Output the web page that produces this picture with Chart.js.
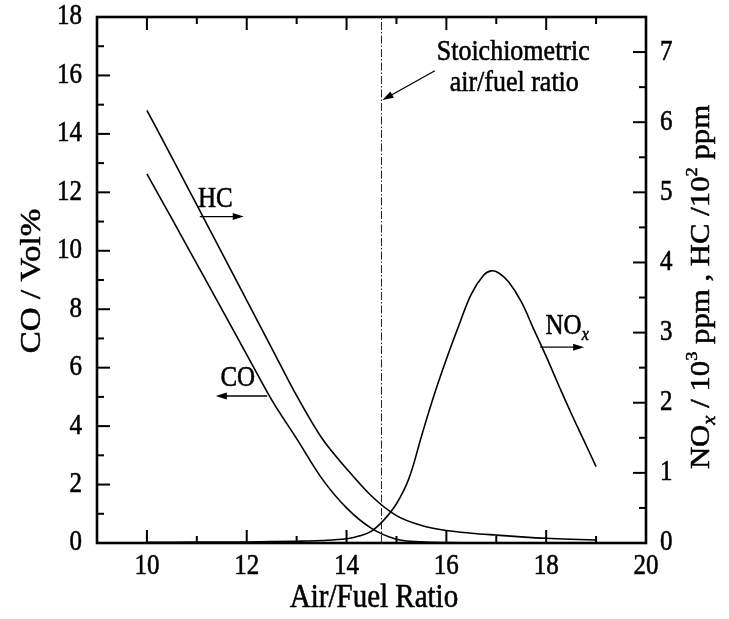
<!DOCTYPE html>
<html>
<head>
<meta charset="utf-8">
<script src="https://cdn.jsdelivr.net/npm/chart.js@4"></script>
<style>
  html, body { margin: 0; padding: 0; background: #fff; }
  #wrap { width: 729px; height: 619px; }
</style>
</head>
<body>
<div id="wrap"><canvas id="chart" width="729" height="619"></canvas></div>
<script>
// 数据 - 从图上读出
const airFuel = [10, 10.5, 11, 11.5, 12, 12.5, 13, 13.5, 14, 14.5, 15, 15.5, 16, 16.5, 17, 17.5, 18, 18.5, 19];
const coVol = [12.63, 11.1, 9.55, 8.0, 6.45, 4.9, 3.57, 2.22, 1.2, 0.5, 0.13, 0.04, 0.015, 0.01, 0.005, 0.005, 0.005, 0.005, 0.005];
const hcPpm = [6.17, 5.5, 4.82, 4.14, 3.46, 2.78, 2.1, 1.5, 1.06, 0.67, 0.39, 0.25, 0.178, 0.14, 0.113, 0.088, 0.067, 0.053, 0.043];

const noxAirFuel = [10, 11, 12, 13, 13.5, 14, 14.25, 14.5, 14.75, 15, 15.25, 15.5, 15.75, 16, 16.25, 16.5, 16.75, 16.9, 17.05, 17.25, 17.5, 17.75, 18, 18.25, 18.5, 18.75, 19];
const noxPpm = [0.01, 0.012, 0.015, 0.025, 0.035, 0.06, 0.1, 0.17, 0.33, 0.56, 0.92, 1.52, 2.1, 2.62, 3.1, 3.55, 3.82, 3.88, 3.85, 3.72, 3.44, 3.05, 2.66, 2.25, 1.85, 1.47, 1.09];

const stoichRatio = 14.7;

// 刻度
const xTicks = [10, 12, 14, 16, 18, 20];
const xMinorTicks = [9, 11, 13, 15, 17, 19];
const coTicks = [0, 2, 4, 6, 8, 10, 12, 14, 16, 18];
const coMinorTicks = [1, 3, 5, 7, 9, 11, 13, 15, 17];
const ppmTicks = [0, 1, 2, 3, 4, 5, 6, 7];
const ppmMinorTicks = [0.5, 1.5, 2.5, 3.5, 4.5, 5.5, 6.5];

const SERIF = '"Liberation Serif", "DejaVu Serif", serif';
const STRETCH = 1.14; // 原图文字偏高

function toPoints(xs, ys) {
    return xs.map((x, i) => ({ x, y: ys[i] }));
}

function setTicks(values) {
    return scale => { scale.ticks = values.map(v => ({ value: v })); };
}

function arrow(ctx, x1, y1, x2, y2) {
    const ang = Math.atan2(y2 - y1, x2 - x1);
    const hl = 11, hw = 3.5;
    ctx.beginPath();
    ctx.moveTo(x1, y1);
    ctx.lineTo(x2 - Math.cos(ang) * hl * 0.8, y2 - Math.sin(ang) * hl * 0.8);
    ctx.stroke();
    ctx.beginPath();
    ctx.moveTo(x2, y2);
    ctx.lineTo(x2 - Math.cos(ang) * hl - Math.sin(ang) * hw, y2 - Math.sin(ang) * hl + Math.cos(ang) * hw);
    ctx.lineTo(x2 - Math.cos(ang) * hl + Math.sin(ang) * hw, y2 - Math.sin(ang) * hl - Math.cos(ang) * hw);
    ctx.closePath();
    ctx.fill();
}

// 带上下标的文字, 竖直方向拉长
function drawRich(ctx, parts, cx, cy, rot, size, align = 'center') {
    if (typeof parts === 'string') parts = [{ t: parts }];
    ctx.save();
    ctx.translate(cx, cy);
    ctx.rotate(rot);
    if (rot === 0) ctx.scale(1, STRETCH); else ctx.scale(STRETCH, 1);
    ctx.textBaseline = 'middle';
    ctx.textAlign = 'left';
    ctx.lineWidth = 0.5;
    const fontOf = p => (p.italic ? 'italic ' : '') + Math.round(size * (p.scale || 1)) + 'px ' + SERIF;
    let total = 0;
    parts.forEach(p => {
        ctx.font = fontOf(p);
        p.w = ctx.measureText(p.t).width;
        total += p.w;
    });
    let x = align === 'center' ? -total / 2 : align === 'right' ? -total : 0;
    parts.forEach(p => {
        ctx.font = fontOf(p);
        const y = (p.dy || 0) * size;
        ctx.fillText(p.t, x, y);
        ctx.strokeText(p.t, x, y);
        x += p.w;
    });
    ctx.restore();
}

const framePlugin = {
    id: 'frame',
    afterDraw(chart) {
        const { ctx, chartArea: a, scales } = chart;
        const sx = scales.x, sy = scales.y, sy2 = scales.y2;
        const X = v => sx.getPixelForValue(v), Y = v => sy.getPixelForValue(v);
        ctx.save();
        ctx.strokeStyle = '#000';
        ctx.fillStyle = '#000';

        // 向内的刻度线
        ctx.lineWidth = 2;
        const tick = (x1, y1, x2, y2) => { ctx.beginPath(); ctx.moveTo(x1, y1); ctx.lineTo(x2, y2); ctx.stroke(); };
        xTicks.forEach(v => { const p = X(v); tick(p, a.bottom, p, a.bottom - 13); tick(p, a.top, p, a.top + 13); });
        xMinorTicks.forEach(v => { const p = X(v); tick(p, a.bottom, p, a.bottom - 7); tick(p, a.top, p, a.top + 7); });
        coTicks.forEach(v => { const p = Y(v); tick(a.left, p, a.left + 13, p); });
        coMinorTicks.forEach(v => { const p = Y(v); tick(a.left, p, a.left + 7, p); });
        ppmTicks.forEach(v => { const p = sy2.getPixelForValue(v); tick(a.right, p, a.right - 13, p); });
        ppmMinorTicks.forEach(v => { const p = sy2.getPixelForValue(v); tick(a.right, p, a.right - 7, p); });

        // 边框
        ctx.lineWidth = 2.6;
        ctx.strokeRect(a.left, a.top, a.right - a.left, a.bottom - a.top);

        // 刻度标签
        xTicks.forEach(v => drawRich(ctx, String(v), X(v), a.bottom + 24, 0, 25));
        coTicks.forEach(v => drawRich(ctx, String(v), a.left - 15, Y(v), 0, 25, 'right'));
        ppmTicks.forEach(v => drawRich(ctx, String(v), a.right + 14, sy2.getPixelForValue(v), 0, 25, 'left'));

        // 坐标轴标题
        drawRich(ctx, 'Air/Fuel Ratio', 374, 598, 0, 29);
        drawRich(ctx, 'CO / Vol%', 32, 281, -Math.PI / 2, 29);
        drawRich(ctx, [
            { t: 'NO' },
            { t: 'x', italic: true, scale: 0.65, dy: 0.3 },
            { t: ' / 10' },
            { t: '3', scale: 0.6, dy: -0.35 },
            { t: ' ppm , HC /10' },
            { t: '2', scale: 0.6, dy: -0.35 },
            { t: ' ppm' }
        ], 702, 287, -Math.PI / 2, 27);

        // 标注
        drawRich(ctx, 'Stoichiometric', X(17.34), Y(16.8), 0, 26);
        drawRich(ctx, 'air/fuel ratio', X(17.36), Y(15.74), 0, 26);
        drawRich(ctx, 'HC', X(11.37), Y(11.74), 0, 25);
        drawRich(ctx, 'CO', X(11.82), Y(5.63), 0, 25);
        drawRich(ctx, [{ t: 'NO' }, { t: 'x', italic: true, scale: 0.65, dy: 0.3 }], X(18.42), Y(7.42), 0, 25);

        ctx.lineWidth = 1.3;
        arrow(ctx, X(15.77), Y(16.16), X(14.72), Y(15.16));
        arrow(ctx, X(11.06), Y(11.17), X(11.94), Y(11.17));
        arrow(ctx, X(12.41), Y(5.03), X(11.38), Y(5.03));
        arrow(ctx, X(17.88), Y(6.7), X(18.76), Y(6.7));
        ctx.restore();
    }
};

const lineStyle = {
    borderColor: '#000',
    borderWidth: 1.6,
    pointRadius: 0,
    fill: false,
    cubicInterpolationMode: 'monotone'
};

const hiddenTicks = { display: false };

new Chart(document.getElementById('chart'), {
    type: 'line',
    data: {
        datasets: [
            { label: 'CO', data: toPoints(airFuel, coVol), yAxisID: 'y', ...lineStyle },
            { label: 'HC', data: toPoints(airFuel, hcPpm), yAxisID: 'y2', ...lineStyle },
            {
                label: 'NOx', data: toPoints(noxAirFuel, noxPpm), yAxisID: 'y2', ...lineStyle,
                cubicInterpolationMode: 'default', tension: 0.4
            },
            {
                label: 'Stoichiometric',
                data: [{ x: stoichRatio, y: 0 }, { x: stoichRatio, y: 18 }],
                yAxisID: 'y',
                borderColor: '#222',
                borderWidth: 1,
                borderDash: [8, 2, 1.5, 2],
                pointRadius: 0
            }
        ]
    },
    options: {
        responsive: false,
        animation: false,
        layout: { padding: { top: 17, left: 0, right: 0, bottom: 0 } },
        plugins: { legend: { display: false }, tooltip: { enabled: false } },
        scales: {
            x: {
                type: 'linear', min: 9, max: 20,
                grid: { display: false, drawTicks: false },
                border: { display: false },
                afterBuildTicks: setTicks(xTicks),
                afterFit: s => { s.height = 76; },
                ticks: hiddenTicks
            },
            y: {
                type: 'linear', position: 'left', min: 0, max: 18,
                grid: { display: false, drawTicks: false },
                border: { display: false },
                afterBuildTicks: setTicks(coTicks),
                afterFit: s => { s.width = 97; },
                ticks: hiddenTicks
            },
            y2: {
                type: 'linear', position: 'right', min: 0, max: 7.5,
                grid: { display: false, drawTicks: false },
                border: { display: false },
                afterBuildTicks: setTicks(ppmTicks),
                afterFit: s => { s.width = 83; },
                ticks: hiddenTicks
            }
        }
    },
    plugins: [framePlugin]
});
</script>
</body>
</html>
